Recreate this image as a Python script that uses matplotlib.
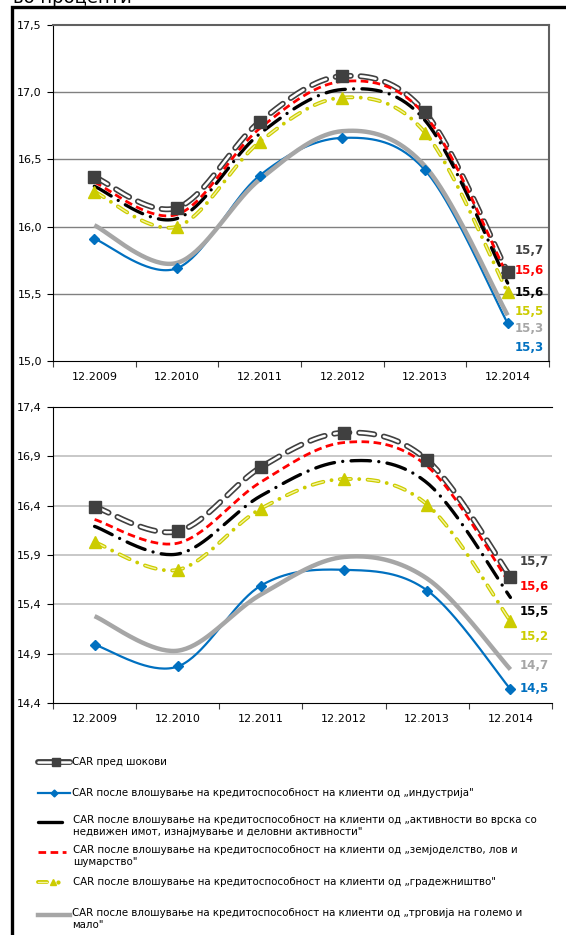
import numpy as np
import matplotlib
matplotlib.use("Agg")
import matplotlib.pyplot as plt

plt.rcParams['font.family'] = ['DejaVu Sans']
plt.rcParams['lines.scale_dashes'] = False

periods = ['12.2009', '12.2010', '12.2011', '12.2012', '12.2013', '12.2014']

# upper panel
top_pre = [16.37, 16.14, 16.78, 17.12, 16.85, 15.66]
top_industry = [15.91, 15.69, 16.38, 16.66, 16.42, 15.28]
top_realestate = [16.30, 16.06, 16.69, 17.02, 16.79, 15.58]
top_agri = [16.33, 16.09, 16.73, 17.08, 16.83, 15.63]
top_construction = [16.26, 16.00, 16.63, 16.96, 16.70, 15.51]
top_trade = [16.01, 15.73, 16.35, 16.71, 16.45, 15.34]

# lower panel
bot_pre = [16.39, 16.14, 16.79, 17.14, 16.86, 15.68]
bot_industry = [14.99, 14.77, 15.59, 15.75, 15.54, 14.54]
bot_realestate = [16.19, 15.91, 16.50, 16.85, 16.63, 15.47]
bot_agri = [16.26, 16.02, 16.64, 17.04, 16.80, 15.60]
bot_construction = [16.03, 15.75, 16.37, 16.67, 16.41, 15.23]
bot_trade = [15.28, 14.93, 15.50, 15.88, 15.66, 14.74]

legend_labels = [
    'CAR пред шокови',
    'CAR после влошување на кредитоспособност на клиенти од „индустрија"',
    'CAR после влошување на кредитоспособност на клиенти од „активности во врска со\nнедвижен имот, изнајмување и деловни активности"',
    'CAR после влошување на кредитоспособност на клиенти од „земјоделство, лов и\nшумарство"',
    'CAR после влошување на кредитоспособност на клиенти од „градежништво"',
    'CAR после влошување на кредитоспособност на клиенти од „трговија на големо и\nмало"',
]

# end-label heights (positions only)
top_label_y = [15.82, 15.67, 15.51, 15.37, 15.24, 15.10]
bot_label_y = [15.83, 15.58, 15.33, 15.07, 14.78, 14.55]

C_PRE = '#404040'
C_BLUE = '#0070C0'
C_RED = '#FF0000'
C_BLACK = '#000000'
C_YEL = '#CCCC00'
C_YEL_IN = '#F4F4A0'
C_GRAY = '#A6A6A6'


def smooth(vals, n=40):
    """Excel-like smoothed line (Bezier through the points)"""
    y = np.asarray(vals, float)
    x = np.arange(len(y), dtype=float)
    xs, ys = [], []
    t = np.linspace(0, 1, n)
    for i in range(len(y) - 1):
        p0 = max(i - 1, 0)
        p3 = min(i + 2, len(y) - 1)
        c1x = x[i] + (x[i + 1] - x[p0]) / 6
        c1y = y[i] + (y[i + 1] - y[p0]) / 6
        c2x = x[i + 1] - (x[p3] - x[i]) / 6
        c2y = y[i + 1] - (y[p3] - y[i]) / 6
        bx = (1 - t)**3 * x[i] + 3 * (1 - t)**2 * t * c1x + 3 * (1 - t) * t**2 * c2x + t**3 * x[i + 1]
        by = (1 - t)**3 * y[i] + 3 * (1 - t)**2 * t * c1y + 3 * (1 - t) * t**2 * c2y + t**3 * y[i + 1]
        xs.append(bx if i == 0 else bx[1:])
        ys.append(by if i == 0 else by[1:])
    return np.concatenate(xs), np.concatenate(ys)


def draw_series(ax, pre, ind, real, agri, cons, trade):
    x = np.arange(len(periods))
    # CAR before shocks: double dashed line
    sx, sy = smooth(pre)
    ax.plot(sx, sy, color=C_PRE, lw=4.2, dashes=(11, 7), dash_capstyle='round', zorder=3)
    ax.plot(sx, sy, color='white', lw=1.8, dashes=(11, 7), dash_capstyle='round', zorder=3)
    ax.plot(x, pre, ls='none', marker='s', ms=8, color=C_PRE, zorder=9)
    # industry
    sx, sy = smooth(ind)
    ax.plot(sx, sy, color=C_BLUE, lw=1.6, zorder=4)
    ax.plot(x, ind, ls='none', marker='D', ms=5.5, color=C_BLUE, zorder=9)
    # real estate
    sx, sy = smooth(real)
    ax.plot(sx, sy, color=C_BLACK, lw=2.4, dashes=(14, 6, 0.01, 6), dash_capstyle='round', zorder=5)
    # agriculture
    sx, sy = smooth(agri)
    ax.plot(sx, sy, color=C_RED, lw=2.0, dashes=(5.5, 3.2), zorder=6)
    # construction
    sx, sy = smooth(cons)
    ax.plot(sx, sy, color=C_YEL, lw=2.8, dashes=(8, 6, 0.01, 6), dash_capstyle='round', zorder=7)
    ax.plot(sx, sy, color=C_YEL_IN, lw=1.0, dashes=(8, 12.01), dash_capstyle='round', zorder=7)
    ax.plot(x, cons, ls='none', marker='^', ms=8, color=C_YEL, zorder=9)
    # trade
    sx, sy = smooth(trade)
    ax.plot(sx, sy, color=C_GRAY, lw=3.2, solid_capstyle='butt', zorder=8)


def end_labels(ax, values, ypos, xoff):
    colors = [C_PRE, C_RED, C_BLACK, C_YEL, C_GRAY, C_BLUE]
    for v, yy, c in zip(values, ypos, colors):
        ax.text(5 + xoff, yy, f'{v:.1f}'.replace('.', ','), color=c,
                fontsize=8.5, fontweight='bold', ha='left', va='center', zorder=10)


def style_axis(ax, ymin, ymax, grid_color, grid_lw):
    ax.set_xlim(-0.5, 5.5)
    ax.set_ylim(ymin, ymax)
    ticks = np.round(np.arange(ymin, ymax + 0.01, 0.5), 1)
    ax.set_yticks(ticks)
    ax.set_yticklabels([f'{t:.1f}'.replace('.', ',') for t in ticks], fontsize=8)
    ax.set_xticks(np.arange(len(periods)))
    ax.set_xticklabels(periods, fontsize=8)
    ax.set_xticks(np.arange(-0.5, 5.6, 1.0), minor=True)
    ax.tick_params(axis='x', which='major', length=0, pad=8)
    ax.tick_params(axis='x', which='minor', length=4, width=0.8, color='#404040')
    ax.tick_params(axis='y', length=4, width=0.8, pad=4)
    for t in ticks[1:-1]:
        ax.axhline(t, color=grid_color, lw=grid_lw, zorder=1)
    ax.spines['left'].set_color('black')
    ax.spines['bottom'].set_color('black')


fig = plt.figure(figsize=(5.66, 9.35), dpi=100)
W, H = 566, 935

ax1 = fig.add_axes([53 / W, 1 - 361 / H, (549 - 53) / W, (361 - 25) / H])
ax2 = fig.add_axes([53 / W, 1 - 703 / H, (552 - 53) / W, (703 - 407) / H])

style_axis(ax1, 15.0, 17.5, '#808080', 1.0)
ax1.spines['top'].set_color('#606060')
ax1.spines['right'].set_color('#606060')
ax1.spines['top'].set_linewidth(1.5)
ax1.spines['right'].set_linewidth(1.5)
draw_series(ax1, top_pre, top_industry, top_realestate, top_agri, top_construction, top_trade)
end_labels(ax1, [top_pre[-1], top_agri[-1], top_realestate[-1], top_construction[-1],
                 top_trade[-1], top_industry[-1]], top_label_y, 0.08)

style_axis(ax2, 14.4, 17.4, '#C8C8C8', 1.4)
ax2.spines['right'].set_visible(False)
ax2.spines['top'].set_color('black')
draw_series(ax2, bot_pre, bot_industry, bot_realestate, bot_agri, bot_construction, bot_trade)
end_labels(ax2, [bot_pre[-1], bot_agri[-1], bot_realestate[-1], bot_construction[-1],
                 bot_trade[-1], bot_industry[-1]], bot_label_y, 0.11)

# overlay in pixel coordinates: frame, cut title, legend
ov = fig.add_axes([0, 0, 1, 1], zorder=-1)
ov.set_xlim(0, W)
ov.set_ylim(H, 0)
ov.axis('off')
ov.plot([12, 12, 600], [960, 7, 7], color='black', lw=2.4, solid_joinstyle='miter', clip_on=False)
ov.text(13, 3, 'во проценти', fontsize=13, ha='left', va='baseline')

leg_y = [762, 793, 822, 852, 882, 915]
text_x = [72, 72, 73, 73, 73, 72]
# handle 1: double line with square
ov.plot([38, 70], [leg_y[0]] * 2, color=C_PRE, lw=4.2, solid_capstyle='round')
ov.plot([38, 70], [leg_y[0]] * 2, color='white', lw=1.8, solid_capstyle='round')
ov.plot([56], [leg_y[0]], marker='s', ms=5.5, color=C_PRE)
# handle 2: blue with diamond
ov.plot([38, 70], [leg_y[1]] * 2, color=C_BLUE, lw=1.6)
ov.plot([54], [leg_y[1]], marker='D', ms=3.5, color=C_BLUE)
# handle 3: black dash
ov.plot([38, 62], [leg_y[2]] * 2, color=C_BLACK, lw=2.4, solid_capstyle='round')
# handle 4: red dashes
ov.plot([38, 66], [leg_y[3]] * 2, color=C_RED, lw=2.0, dashes=(5.5, 3.2))
# handle 5: yellow dash + triangle + dot
ov.plot([38, 47], [leg_y[4]] * 2, color=C_YEL, lw=2.8, solid_capstyle='round')
ov.plot([38, 47], [leg_y[4]] * 2, color=C_YEL_IN, lw=1.0, solid_capstyle='round')
ov.plot([53], [leg_y[4]], marker='^', ms=5, color=C_YEL)
ov.plot([58], [leg_y[4]], marker='o', ms=2, color=C_YEL)
# handle 6: gray line
ov.plot([38, 70], [leg_y[5]] * 2, color=C_GRAY, lw=3.2)
for yy, xx, lab in zip(leg_y, text_x, legend_labels):
    if '\n' in lab:
        ov.text(xx, yy - 7, lab, fontsize=7.4, ha='left', va='top', linespacing=1.3)
    else:
        ov.text(xx, yy, lab, fontsize=7.4, ha='left', va='center')

fig.savefig('out.png', dpi=100)
